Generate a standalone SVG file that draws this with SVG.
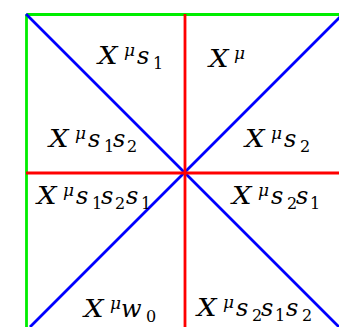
<svg xmlns="http://www.w3.org/2000/svg" width="339" height="327" viewBox="0 0 339 327">
<style>
.ln{fill:none;stroke-width:2.8;stroke-linecap:butt}
.g{stroke:#00ee00}
.r{stroke:#ff0000}
.b{stroke:#0000ff}
.m{font-family:"DejaVu Serif","Liberation Serif",serif;font-style:italic;font-size:24px;fill:#000}
.x{font-size:24.5px}
.sp{font-size:17px}
.sb{font-size:16px;font-style:normal}
</style>
<rect width="339" height="327" fill="#ffffff"/>
<g id="connectors">
<path class="ln g" d="M26.5,14.5 H339 M26.5,14.5 V327"/>
<path class="ln b" d="M26,14 L340,328 M30,327 L340,17"/>
<path class="ln r" d="M185,14 V327 M26,173 H339"/>
</g>
<g id="r1"><text class="m x" transform="translate(98,64) scale(1.12,1)">X</text><text class="m"><tspan class="sp" x="124" y="55.5">μ</tspan><tspan x="137" y="64">s</tspan><tspan class="sb" x="153" y="69">1</tspan></text></g>
<g id="r2"><text class="m x" transform="translate(209,67) scale(1.12,1)">X</text><text class="m"><tspan class="sp" x="234" y="58.5">μ</tspan></text></g>
<g id="r3"><text class="m x" transform="translate(49,147) scale(1.12,1)">X</text><text class="m"><tspan class="sp" x="75" y="138.5">μ</tspan><tspan x="88" y="147">s</tspan><tspan class="sb" x="104" y="152">1</tspan><tspan x="113" y="147">s</tspan><tspan class="sb" x="127" y="152">2</tspan></text></g>
<g id="r4"><text class="m x" transform="translate(245,147) scale(1.12,1)">X</text><text class="m"><tspan class="sp" x="271" y="138.5">μ</tspan><tspan x="284" y="147">s</tspan><tspan class="sb" x="300" y="152">2</tspan></text></g>
<g id="r5"><text class="m x" transform="translate(37,204) scale(1.12,1)">X</text><text class="m"><tspan class="sp" x="63" y="195.5">μ</tspan><tspan x="76" y="204">s</tspan><tspan class="sb" x="92" y="209">1</tspan><tspan x="101" y="204">s</tspan><tspan class="sb" x="115" y="209">2</tspan><tspan x="126" y="204">s</tspan><tspan class="sb" x="141" y="209">1</tspan></text></g>
<g id="r6"><text class="m x" transform="translate(232,204) scale(1.12,1)">X</text><text class="m"><tspan class="sp" x="258" y="195.5">μ</tspan><tspan x="271" y="204">s</tspan><tspan class="sb" x="287" y="209">2</tspan><tspan x="296" y="204">s</tspan><tspan class="sb" x="310" y="209">1</tspan></text></g>
<g id="r7"><text class="m x" transform="translate(84,317) scale(1.12,1)">X</text><text class="m"><tspan class="sp" x="110" y="308.5">μ</tspan><tspan x="121" y="317">w</tspan><tspan class="sb" x="146" y="322">0</tspan></text></g>
<g id="r8"><text class="m x" transform="translate(197,316) scale(1.12,1)">X</text><text class="m"><tspan class="sp" x="223" y="307.5">μ</tspan><tspan x="236" y="316">s</tspan><tspan class="sb" x="252" y="321">2</tspan><tspan x="261" y="316">s</tspan><tspan class="sb" x="275" y="321">1</tspan><tspan x="286" y="316">s</tspan><tspan class="sb" x="302" y="321">2</tspan></text></g>
</svg>
